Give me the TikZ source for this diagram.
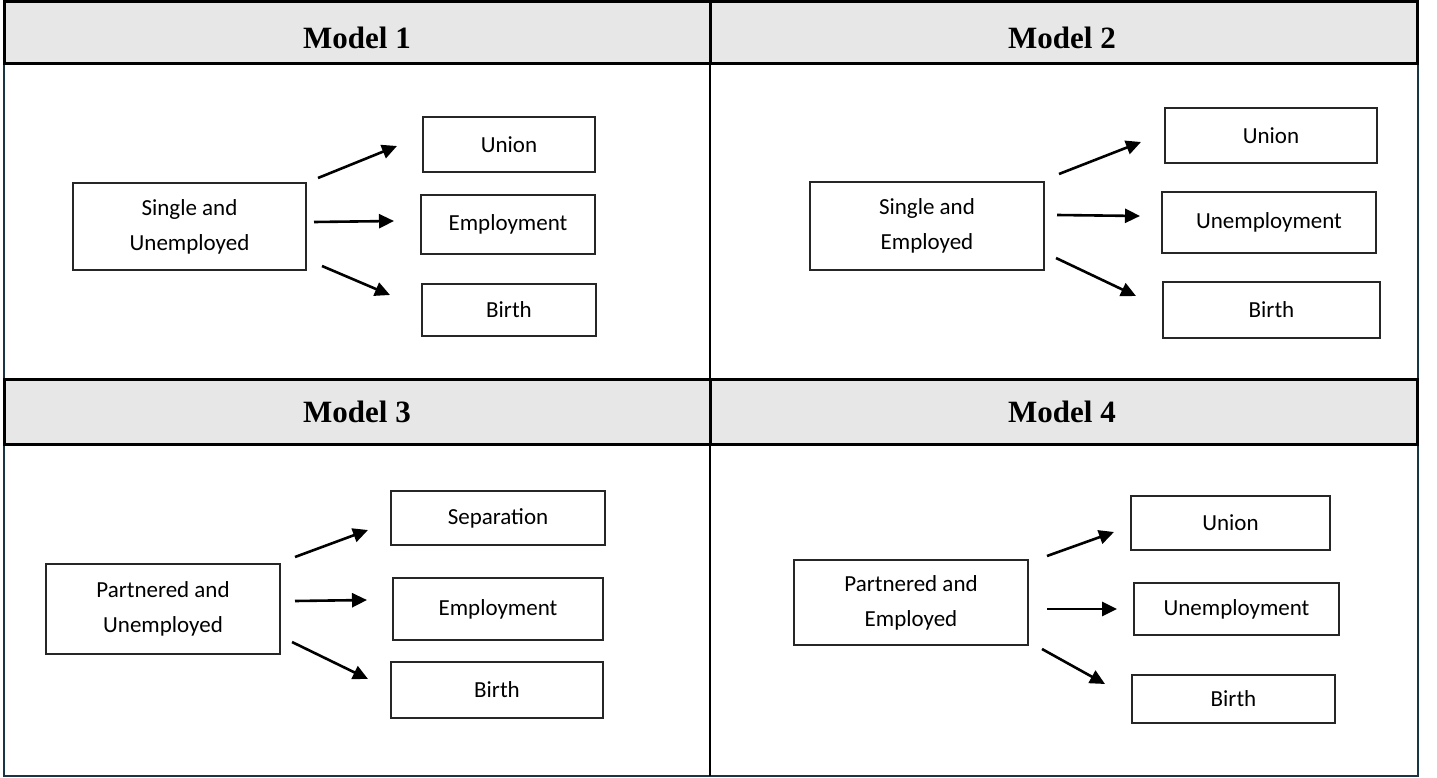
\documentclass[tikz,border=0pt]{standalone}
\usepackage{fontspec}
\setmainfont{Carlito}
\newfontfamily\titlefont{Liberation Serif}
\usetikzlibrary{arrows.meta}
\definecolor{hdrgray}{HTML}{E7E7E7}
\definecolor{framenavy}{HTML}{183545}

\begin{document}
\begin{tikzpicture}[x=1pt,y=-1pt,
    box/.style={draw=black!85,line width=2pt,inner sep=0pt,align=center,
        font=\fontsize{23}{35}\selectfont},
    hdr/.style={fill=hdrgray,draw=black,line width=3pt},
    title/.style={anchor=base,font=\titlefont\bfseries\fontsize{31}{36}\selectfont},
    arr/.style={line width=2.6pt,-{Triangle[length=15pt,width=14pt]}}]
        \useasboundingbox (0,0) rectangle (1437,778);

        \draw[framenavy,line width=2.5pt] (4,2) rectangle (1418,776);
        \draw[black,line width=2.5pt] (710,64) -- (710,379);
        \draw[black,line width=2.5pt] (710,444) -- (710,776);
        \draw[hdr] (4,2) rectangle (710,64);
        \draw[hdr] (710,2) rectangle (1417,64);
        \draw[hdr] (4,379) rectangle (710,444);
        \draw[hdr] (710,379) rectangle (1417,444);

        \node[title] (t1) at (357,49) {Model 1};
        \node[title] (t2) at (1062,49) {Model 2};
        \node[title] (t3) at (357,422) {Model 3};
        \node[title] (t4) at (1062,422) {Model 4};

        \node[box,minimum width=233,minimum height=87] (s1) at (189.5,226.5) {Single and\\Unemployed};
        \node[box,minimum width=172,minimum height=55] (u1) at (509,144.5) {Union};
        \node[box,minimum width=174,minimum height=59] (e1) at (508,224.5) {Employment};
        \node[box,minimum width=174,minimum height=52] (b1) at (509,310) {Birth};

        \draw[arr] ([shift={(11,-48.5)}]s1.east) -- ([shift={(-25,1.5)}]u1.west);
        \draw[arr] ([shift={(7,-4.5)}]s1.east) -- ([shift={(-26,-3.5)}]e1.west);
        \draw[arr] ([shift={(15,39.5)}]s1.east) -- ([shift={(-31,-15)}]b1.west);

        \node[box,minimum width=234,minimum height=88] (s2) at (927,226) {Single and\\Employed};
        \node[box,minimum width=212,minimum height=55] (u2) at (1271,135.5) {Union};
        \node[box,minimum width=214,minimum height=61] (n2) at (1269,222.5) {Unemployment};
        \node[box,minimum width=217,minimum height=56] (b2) at (1271.5,310) {Birth};

        \draw[arr] ([shift={(14,-52)}]s2.east) -- ([shift={(-23,6.5)}]u2.west);
        \draw[arr] ([shift={(12,-11)}]s2.east) -- ([shift={(-21,-6.5)}]n2.west);
        \draw[arr] ([shift={(11,32)}]s2.east) -- ([shift={(-26,-14)}]b2.west);

        \node[box,minimum width=234,minimum height=90] (s3) at (163,609) {Partnered and\\Unemployed};
        \node[box,minimum width=214,minimum height=54] (p3) at (498,518) {Separation};
        \node[box,minimum width=210,minimum height=62] (e3) at (498,609) {Employment};
        \node[box,minimum width=212,minimum height=56] (b3) at (497,690) {Birth};

        \draw[arr] ([shift={(14,-52)}]s3.east) -- ([shift={(-22,12)}]p3.west);
        \draw[arr] ([shift={(14,-8)}]s3.east) -- ([shift={(-25,-9)}]e3.west);
        \draw[arr] ([shift={(11,33)}]s3.east) -- ([shift={(-22,-11)}]b3.west);

        \node[box,minimum width=234,minimum height=85] (s4) at (911,602.5) {Partnered and\\Employed};
        \node[box,minimum width=199,minimum height=54] (u4) at (1230.5,523) {Union};
        \node[box,minimum width=205,minimum height=52] (n4) at (1236.5,609) {Unemployment};
        \node[box,minimum width=203,minimum height=48] (b4) at (1233.5,699) {Birth};

        \draw[arr] ([shift={(18,-46.5)}]s4.east) -- ([shift={(-16,9)}]u4.west);
        \draw[arr] ([shift={(18,6.5)}]s4.east) -- ([shift={(-16,0)}]n4.west);
        \draw[arr] ([shift={(13,46.5)}]s4.east) -- ([shift={(-26,-15)}]b4.west);
    \end{tikzpicture}
\end{document}
